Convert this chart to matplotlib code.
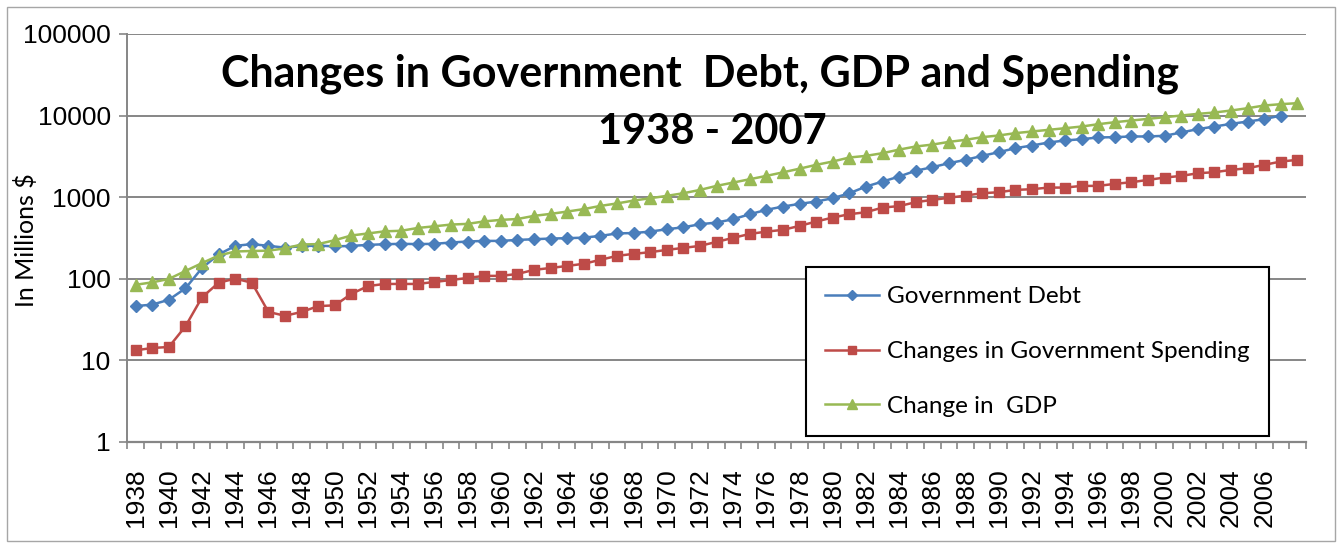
import matplotlib
matplotlib.use("Agg")
import matplotlib.pyplot as plt
from matplotlib.patches import Rectangle

# data (log scale, "In Millions $")
years = list(range(1938, 2009))

gov_debt = [46, 48, 55, 76, 135, 198, 252, 265, 252, 240,
            250, 254, 248, 252, 259, 264, 267, 265, 267, 277,
            285, 290, 290, 298, 304, 310, 313, 318, 334, 358,
            362, 377, 403, 426, 464, 487, 535, 616, 697, 765,
            825, 881, 968, 1114, 1345, 1549, 1785, 2105, 2323, 2603,
            2860, 3200, 3550, 3975, 4285, 4667, 4942, 5130, 5380, 5430,
            5535, 5535, 5640, 6200, 6810, 7330, 7900, 8440, 9020, 10000]

gov_spending = [13.2, 14.1, 14.5, 26, 59, 89, 100, 89, 39, 35,
                39, 46, 47, 65, 81, 86, 86, 86, 91, 96,
                102, 108, 108, 114, 128, 135, 143, 152, 170, 190,
                201, 211, 225, 238, 252, 282, 316, 353, 377, 396,
                443, 501, 561, 616, 652, 743, 775, 865, 923, 980,
                1043, 1114, 1146, 1224, 1248, 1307, 1307, 1371, 1371, 1452,
                1521, 1625, 1735, 1818, 1960, 2018, 2153, 2259, 2483, 2729,
                2858]

gdp = [84, 90, 99, 124, 155, 192, 215, 218, 220, 235,
       262, 265, 296, 338, 358, 380, 386, 418, 438, 460,
       469, 503, 525, 538, 588, 622, 664, 712, 779, 835,
       906, 968, 1034, 1114, 1224, 1371, 1506, 1655, 1818, 2010,
       2230, 2483, 2729, 3055, 3200, 3452, 3820, 4169, 4400, 4750,
       5033, 5430, 5690, 6082, 6370, 6672, 6992, 7330, 7831, 8285,
       8686, 9103, 9541, 10000, 10480, 10890, 11520, 12300, 13270, 13780,
       14170]

year_labels = [str(y) if (y - 1938) % 2 == 0 and y <= 2006 else '' for y in years]

fig = plt.figure(figsize=(13.42, 5.48), dpi=100)
ax = fig.add_axes([0.0949, 0.194, 0.8781, 0.744])

# chart border
fig.patches.append(Rectangle((7 / 1342, 7 / 548), 1328 / 1342, 534 / 548,
                             transform=fig.transFigure, fill=False,
                             edgecolor='#a6a6a6', linewidth=1))

x = list(range(len(years)))
ax.plot(x[:len(gov_debt)], gov_debt, color='#4a7ebb', marker='D', markersize=6.5,
        linewidth=1.8, label='Government Debt', zorder=3)
ax.plot(x, gov_spending, color='#be4b48', marker='s', markersize=7.5,
        linewidth=1.8, label='Changes in Government Spending', zorder=3)
ax.plot(x, gdp, color='#98b954', marker='^', markersize=8.5,
        linewidth=1.8, label='Change in  GDP', zorder=3)

ax.set_yscale('log')
ax.set_ylim(1, 100000)
ax.set_yticks([1, 10, 100, 1000, 10000, 100000])
ax.set_yticklabels(['1', '10', '100', '1000', '10000', '100000'])
ax.yaxis.set_minor_locator(matplotlib.ticker.NullLocator())
ax.set_xlim(-0.5, len(years) - 0.5)

ax.set_xticks(x)
ax.set_xticklabels(year_labels, rotation=90)
ax.set_xticks([i - 0.5 for i in range(len(years) + 1)], minor=True)
ax.tick_params(axis='x', which='major', length=0, pad=19, labelsize=19)
ax.tick_params(axis='x', which='minor', length=5, width=1.2, color='#868686')
ax.tick_params(axis='y', which='major', length=6, width=1.2, color='#868686',
               pad=6, labelsize=19)
for lbl in ax.get_xticklabels() + ax.get_yticklabels():
    lbl.set_fontfamily('Liberation Sans')

ax.grid(axis='y', color='#868686', linewidth=1.4, zorder=0)
ax.spines['top'].set_visible(False)
ax.spines['right'].set_visible(False)
ax.spines['left'].set_color('#868686')
ax.spines['left'].set_linewidth(1.4)
ax.spines['bottom'].set_color('#868686')
ax.spines['bottom'].set_linewidth(1.6)

ax.set_ylabel('In Millions $', fontsize=18, fontfamily='Lato')
ax.yaxis.set_label_coords(-0.0758, 0.495)

fig.text(0.5216, 0.865, 'Changes in Government  Debt, GDP and Spending',
         ha='center', va='center', fontsize=31, fontweight='bold', fontfamily='Lato')
fig.text(0.531, 0.759, '1938 - 2007', ha='center', va='center',
         fontsize=30, fontweight='bold', fontfamily='Lato')

leg = ax.legend(loc='upper left', bbox_to_anchor=(806 / 1342, 1 - 267 / 548),
                bbox_transform=fig.transFigure, frameon=True, fancybox=False,
                prop={'family': 'Lato', 'size': 17.5}, handlelength=2.2,
                handletextpad=0.35, labelspacing=1.38, borderpad=0.8,
                borderaxespad=0, markerscale=0.8)
leg.get_frame().set_edgecolor('black')
leg.get_frame().set_linewidth(1.5)
leg.get_frame().set_alpha(1)

plt.savefig('out.png', dpi=100)
